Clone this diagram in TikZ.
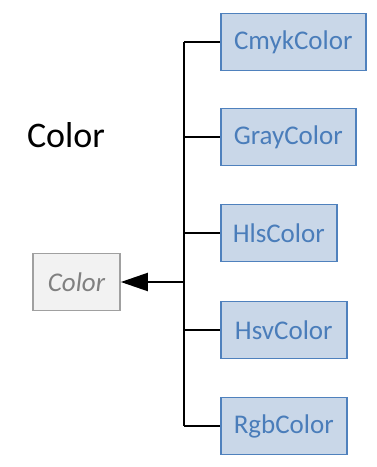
\documentclass[tikz,border=0pt]{standalone}
\usepackage{fontspec}
\setmainfont{Carlito}
\usetikzlibrary{arrows.meta}
\definecolor{boxfill}{HTML}{C9D7E8}
\definecolor{boxline}{HTML}{4F81BD}
\definecolor{boxtext}{HTML}{4A7DBA}
\definecolor{absfill}{HTML}{F2F2F2}
\definecolor{absline}{HTML}{A0A0A0}
\definecolor{abstext}{HTML}{808080}
\tikzset{
  x=1pt, y=1pt,
  cls/.style={draw=boxline, fill=boxfill, line width=1.6pt, text=boxtext,
    font=\fontsize{27}{31}\selectfont, minimum height=57pt, inner sep=0pt,
    anchor=west},
  abscls/.style={draw=absline, fill=absfill, line width=1.6pt, text=abstext,
    font=\fontsize{27}{31}\selectfont\itshape, minimum height=57pt,
    minimum width=87pt, inner sep=0pt},
  trunk/.style={line width=2pt, black},
  branch/.style={line width=1.8pt, black},
}
\begin{document}
\begin{tikzpicture}
\useasboundingbox (0,0) rectangle (377,-467);
\node[font=\fontsize{36}{40}\selectfont, anchor=base] (title) at (66,-147) {Color};
\node[cls, minimum width=145pt] (cmyk) at (220,-42) {CmykColor};
\node[cls, minimum width=135pt] (gray) at (220,-137) {GrayColor};
\node[cls, minimum width=116pt] (hls) at (220,-233) {HlsColor};
\node[cls, minimum width=126pt] (hsv) at (220,-330) {HsvColor};
\node[cls, minimum width=126pt] (rgb) at (220,-426) {RgbColor};
\node[abscls] (color) at (76.5,-282) {Color};
\coordinate (ttop) at (184,-42);
\coordinate (tbot) at (184,-426);
\draw[trunk] (ttop) -- (tbot);
\foreach \n in {cmyk,gray,hls,hsv,rgb}
  \draw[branch] (\n.west -| ttop) -- (\n.west);
\draw[trunk, -{Triangle[length=27pt,width=18pt]}] (color.east -| ttop) -- (color.east);
\end{tikzpicture}
\end{document}
